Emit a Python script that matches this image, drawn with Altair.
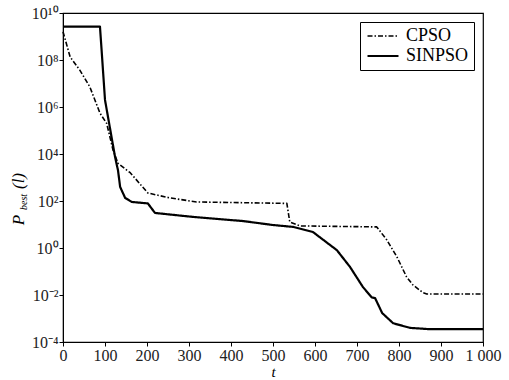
import altair as alt
import pandas as pd

# SINPSO curve (iteration t, best value)
sin_t = [0, 88, 92, 100, 124, 131, 136, 148, 164, 202, 219, 310, 429, 500, 548, 595, 652, 683, 714, 735, 743, 760, 786, 826, 874, 1000]
sin_v = [2.63e9, 2.63e9, 2.51e8, 2.0e6, 7.4e3, 2.0e3, 398, 135, 91, 79, 31, 21, 14, 9.5, 7.9, 4.8, 0.81, 0.16, 0.022, 0.0079, 0.0074, 0.0017, 6.3e-4, 4.0e-4, 3.5e-4, 3.5e-4]

# CPSO curve
cp_t = [0, 17, 40, 64, 88, 104, 119, 131, 160, 202, 255, 318, 533, 540, 564, 747, 771, 795, 818, 833, 857, 866, 1000]
cp_v = [1.6e9, 1.35e8, 3.7e7, 7.1e6, 5.5e5, 2.0e5, 1.5e4, 4.0e3, 1.6e3, 219, 135, 91, 79, 12.6, 8.7, 7.9, 2.2, 0.42, 0.059, 0.027, 0.0126, 0.011, 0.011]

series = ["CPSO", "SINPSO"]
x_ticks = list(range(0, 1001, 100))
y_ticks = [1e-4, 1e-2, 1, 1e2, 1e4, 1e6, 1e8, 1e10]

df = pd.concat([
    pd.DataFrame({"t": cp_t, "v": cp_v, "s": "CPSO", "o": range(len(cp_t))}),
    pd.DataFrame({"t": sin_t, "v": sin_v, "s": "SINPSO", "o": range(len(sin_t))}),
])

FONT = "Liberation Serif"

lines = alt.Chart(df).mark_line(color="black", strokeJoin="round").encode(
    x=alt.X("t:Q", scale=alt.Scale(domain=[0, 1000], nice=False),
            axis=alt.Axis(values=x_ticks, title="t", titleFontStyle="italic",
                          titleFontWeight="normal", titleFontSize=15, titlePadding=1,
                          labelOverlap=False, labelFlush=False, labelFontSize=16,
                          labelExpr="datum.value == 1000 ? '1 000' : datum.label",
                          format="d")),
    y=alt.Y("v:Q", scale=alt.Scale(type="log", domain=[1e-4, 1e10], nice=False),
            axis=alt.Axis(values=y_ticks, title=None, labelOverlap=False, labelFontSize=16,
                          labelExpr="'10' + ['⁻⁴','','⁻²','','⁰','','²','','⁴','','⁶','','⁸','','¹⁰'][round(log(datum.value)/LN10)+4]")),
    order="o:Q",
    strokeDash=alt.StrokeDash("s:N", scale=alt.Scale(domain=series, range=[[5, 2, 1.5, 2], [1, 0]]),
                              legend=alt.Legend(title=None)),
    strokeWidth=alt.StrokeWidth("s:N", scale=alt.Scale(domain=series, range=[1.6, 2.2]),
                                legend=alt.Legend(title=None)),
)

tdf = pd.DataFrame({"txt": ["P", "best", "(l)"], "yy": [207, 189, 168], "xx": [-44, -39, -44],
                    "fs": [17, 10, 17]})
ytitle = alt.Chart(tdf).mark_text(font=FONT, fontStyle="italic", angle=270, color="black",
                                  align="center", baseline="middle").encode(
    x=alt.X("xx:Q", scale=None), y=alt.Y("yy:Q", scale=None), text="txt:N",
    size=alt.Size("fs:Q", scale=None, legend=None))

chart = alt.layer(lines, ytitle).properties(
    width=420, height=329, autosize="none",
    padding={"left": 63, "top": 13, "right": 26, "bottom": 38},
).configure_view(stroke="black", strokeWidth=1.2).configure_axis(
    labelFont=FONT, titleFont=FONT, labelColor="#222",
    domainColor="black", tickColor="black", tickSize=4, grid=False, labelPadding=1,
).configure_legend(
    orient="none", legendX=297, legendY=9, strokeColor="black", padding=5,
    labelFont=FONT, labelFontSize=18, labelColor="black", symbolType="M-2,0H2",
    symbolSize=240, symbolStrokeColor="black", rowPadding=2, symbolOffset=9,
    labelOffset=14, fillColor="white",
)

chart.save("out.html", embed_options={"renderer": "svg", "actions": False})
